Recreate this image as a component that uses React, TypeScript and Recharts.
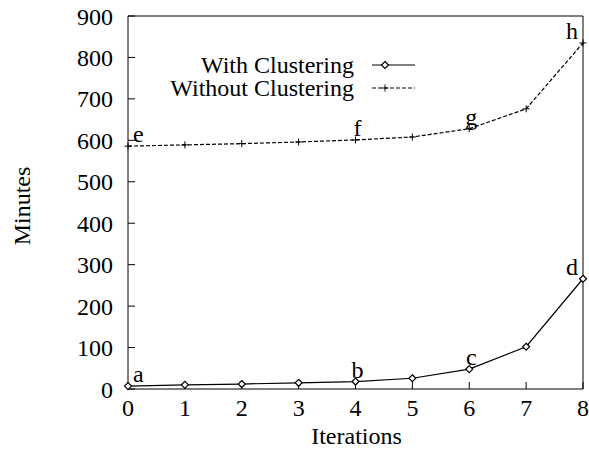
import { LineChart, Line, XAxis, YAxis, LabelList } from "recharts";

const iterations = [0, 1, 2, 3, 4, 5, 6, 7, 8];
const withClustering = [7, 10, 12, 15, 18, 26, 48, 102, 266];
const withoutClustering = [586, 589, 592, 596, 601, 608, 628, 676, 835];
const withLabels = ["a", "", "", "", "b", "", "c", "", "d"];
const withoutLabels = ["e", "", "", "", "f", "", "g", "", "h"];
const seriesNames = ["With Clustering", "Without Clustering"];
const yTicks = [0, 100, 200, 300, 400, 500, 600, 700, 800, 900];

const data = iterations.map((it, i) => ({
  it,
  withC: withClustering[i],
  withoutC: withoutClustering[i],
  withL: withLabels[i],
  withoutL: withoutLabels[i],
}));

const FONT = "'Liberation Serif', 'Times New Roman', serif";
const tickStyle = { fill: "#000", fontSize: 24, fontFamily: FONT };

const Diamond = (props: any) => {
  const { cx, cy } = props;
  if (cx == null || cy == null) return null;
  return (
    <path
      d={`M${cx},${cy - 3.5} L${cx + 3.5},${cy} L${cx},${cy + 3.5} L${cx - 3.5},${cy} Z`}
      fill="#fff"
      stroke="#000"
      strokeWidth={1.2}
    />
  );
};

const Plus = (props: any) => {
  const { cx, cy } = props;
  if (cx == null || cy == null) return null;
  return (
    <path
      d={`M${cx - 3.5},${cy} L${cx + 3.5},${cy} M${cx},${cy - 3.5} L${cx},${cy + 3.5}`}
      stroke="#000"
      strokeWidth={1}
    />
  );
};

// letters next to first / middle / last points
const pointLabel = (props: any) => {
  const { x, y, value, index } = props;
  if (!value) return null;
  let anchor = "middle";
  let dx = 2;
  if (index === 0) {
    anchor = "start";
    dx = 5;
  } else if (index === iterations.length - 1) {
    anchor = "end";
    dx = -5;
  }
  return (
    <text
      x={x + dx}
      y={y - 4}
      textAnchor={anchor}
      fontSize={24}
      fontFamily={FONT}
      fill="#000"
    >
      {value}
    </text>
  );
};

const LegendBox = () => (
  <svg
    width={280}
    height={60}
    style={{ position: "absolute", left: 150, top: 50 }}
  >
    {seriesNames.map((name, i) => (
      <g key={name}>
        <text
          x={204}
          y={15 + i * 23}
          dominantBaseline="central"
          textAnchor="end"
          fontSize={24}
          fontFamily={FONT}
          fill="#000"
        >
          {name}
        </text>
        <line
          x1={222}
          x2={265}
          y1={15 + i * 23}
          y2={15 + i * 23}
          stroke="#000"
          strokeWidth={1.2}
          strokeDasharray={i === 1 ? "4 2" : undefined}
        />
        {i === 0 ? <Diamond cx={235} cy={15} /> : <Plus cx={235} cy={38} />}
      </g>
    ))}
  </svg>
);

export default function App() {
  return (
    <div
      style={{
        position: "absolute",
        left: 0,
        top: 0,
        width: 589,
        height: 450,
        overflow: "hidden",
      }}
    >
      <LineChart
        width={589}
        height={450}
        data={data}
        margin={{ top: 15, right: 5, left: 0, bottom: 0 }}
        style={{ overflow: "visible" }}
      >
        <XAxis
          dataKey="it"
          type="number"
          domain={[0, 8]}
          ticks={iterations}
          height={61}
          tickSize={-7}
          tickMargin={17}
          tick={tickStyle}
          stroke="#000"
          label={(p: any) => (
            <text
              x={p.viewBox.x + p.viewBox.width / 2 + 1}
              y={444}
              textAnchor="middle"
              fontSize={24}
              fontFamily={FONT}
              fill="#000"
            >
              Iterations
            </text>
          )}
        />
        <XAxis
          xAxisId="top"
          orientation="top"
          dataKey="it"
          type="number"
          domain={[0, 8]}
          ticks={iterations}
          height={1}
          tickSize={-7}
          tick={false}
          stroke="#000"
        />
        <YAxis
          type="number"
          domain={[0, 900]}
          ticks={yTicks}
          width={128}
          tickSize={-7}
          tickMargin={22}
          tick={tickStyle}
          stroke="#000"
          label={(p: any) => (
            <text
              x={22}
              y={206}
              transform="rotate(-90, 22, 206)"
              textAnchor="middle"
              dominantBaseline="central"
              fontSize={24}
              fontFamily={FONT}
              fill="#000"
            >
              Minutes
            </text>
          )}
        />
        <YAxis
          yAxisId="right"
          orientation="right"
          type="number"
          domain={[0, 900]}
          ticks={yTicks}
          width={1}
          tickSize={-7}
          tick={false}
          stroke="#000"
        />
        <Line
          dataKey="withC"
          name={seriesNames[0]}
          stroke="#000"
          strokeWidth={1.2}
          dot={<Diamond />}
          isAnimationActive={false}
        >
          <LabelList dataKey="withL" content={pointLabel} />
        </Line>
        <Line
          dataKey="withoutC"
          name={seriesNames[1]}
          stroke="#000"
          strokeWidth={1.2}
          strokeDasharray="4 2"
          dot={<Plus />}
          isAnimationActive={false}
        >
          <LabelList dataKey="withoutL" content={pointLabel} />
        </Line>
      </LineChart>
      <LegendBox />
    </div>
  );
}
